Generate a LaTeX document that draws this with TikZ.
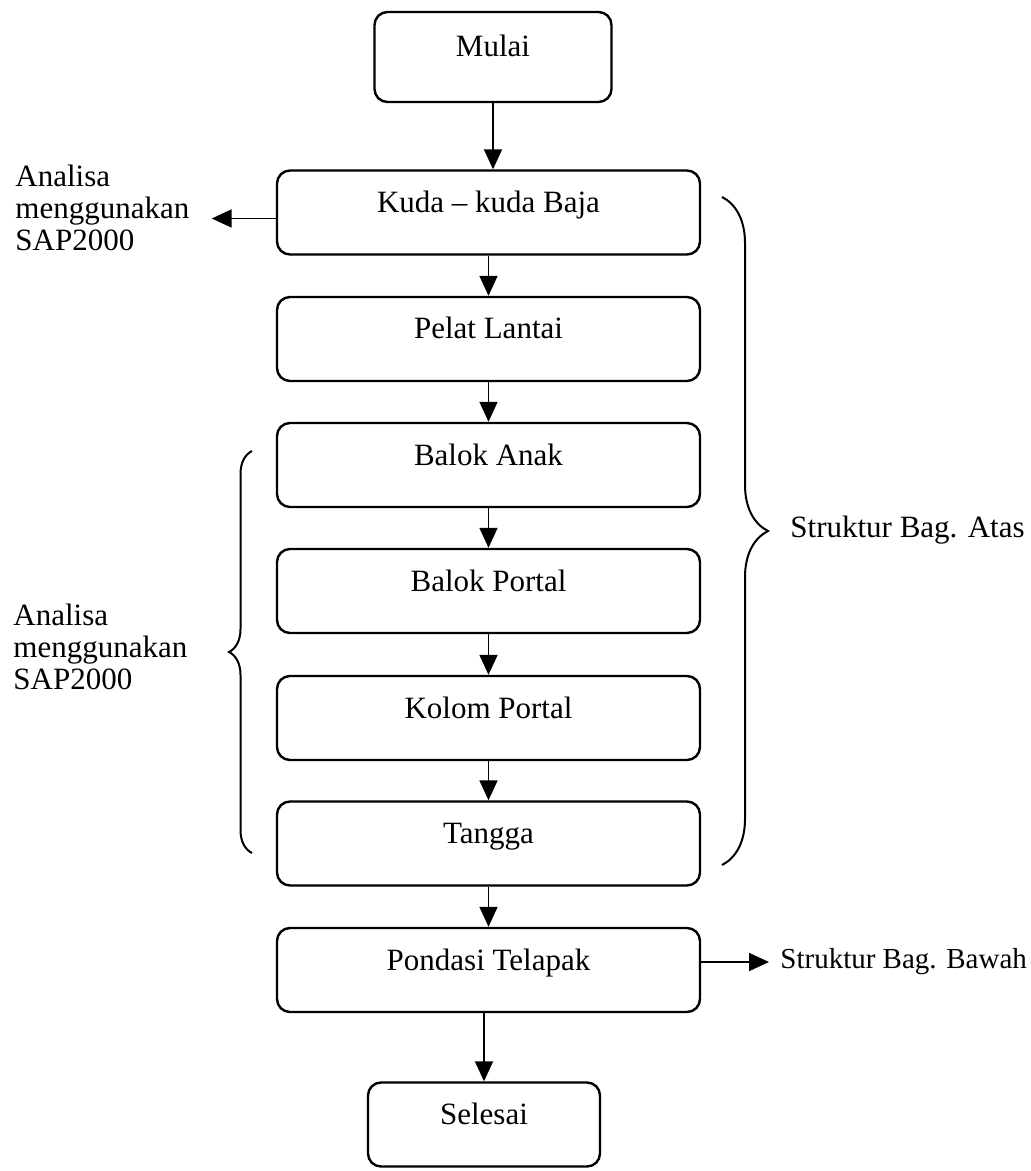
\documentclass[tikz,border=0pt]{standalone}
\usepackage{fontspec}
\setmainfont{Liberation Serif}
\usepackage{tikz}
\usetikzlibrary{arrows.meta,positioning,calc,decorations.pathreplacing}

\begin{document}
\begin{tikzpicture}[
  x=0.5pt,
  y=-0.5pt,
  box/.style={draw, line width=1.2pt, rounded corners=6.5pt, minimum width=211.5pt, minimum height=42pt,
              inner sep=0pt, text height=8pt, text depth=8pt, font=\fontsize{15.5}{16}\selectfont},
  arr/.style={line width=0.9pt, -{Triangle[length=10pt,width=9pt]}},
  note/.style={align=left, inner sep=0pt, font=\fontsize{15.5}{16}\selectfont},
  bracket/.style={decorate, line width=1pt},
]
\useasboundingbox (0,0) rectangle (1030,1171);

% Flow boxes
\node[box, minimum width=118.5pt, minimum height=45pt] (mulai) at (493,57) {Mulai};
\node[box] (kuda)    at (488.5,212.5) {Kuda – kuda Baja};
\node[box] (pelat)   at (488.5,339)   {Pelat Lantai};
\node[box] (anak)    at (488.5,465)   {Balok Anak};
\node[box] (portal)  at (488.5,591)   {Balok Portal};
\node[box] (kolom)   at (488.5,718)   {Kolom Portal};
\node[box] (tangga)  at (488.5,843.5) {Tangga};
\node[box] (pondasi) at (488.5,970)   {Pondasi Telapak};
\node[box, minimum width=116pt] (selesai) at (484,1124.5) {Selesai};

% Flow arrows
\draw[arr] (mulai) -- (mulai |- kuda.north);
\foreach \a/\b in {kuda/pelat,pelat/anak,anak/portal,portal/kolom,kolom/tangga,tangga/pondasi}
  \draw[arr] (\a) -- (\b);
\draw[arr] (pondasi.south -| selesai) -- (selesai);

% Side notes
\node[note, anchor=west, inner xsep=11pt] (ana1) at (-7,207.5) {Analisa\\menggunakan\\SAP2000};
\coordinate (kudal) at ([yshift=-3pt]kuda.west);
\draw[arr] (kudal) -- (kudal -| ana1.east);

\node[note, anchor=west] (ana2) at (13,647) {Analisa\\menggunakan\\SAP2000};
\node[note, anchor=west] (atas) at (790,530) {Struktur Bag. Atas};
\node[note, anchor=west, inner xsep=5.5pt, font=\fontsize{14.5}{16}\selectfont] (bawah) at (769,962) {Struktur Bag. Bawah};
\draw[arr] (pondasi.east |- bawah.west) -- (bawah.west);

% Braces
\coordinate (atasT) at (722,197);
\coordinate (atasB) at (722,865);
\draw[bracket, decoration={brace, amplitude=23pt}] (atasT) -- (atasB);
\coordinate (anaB) at (252,853);
\coordinate (anaT) at (252,451);
\draw[bracket, decoration={brace, amplitude=11.5pt}] (anaB) -- (anaT);

\end{tikzpicture}
\end{document}
